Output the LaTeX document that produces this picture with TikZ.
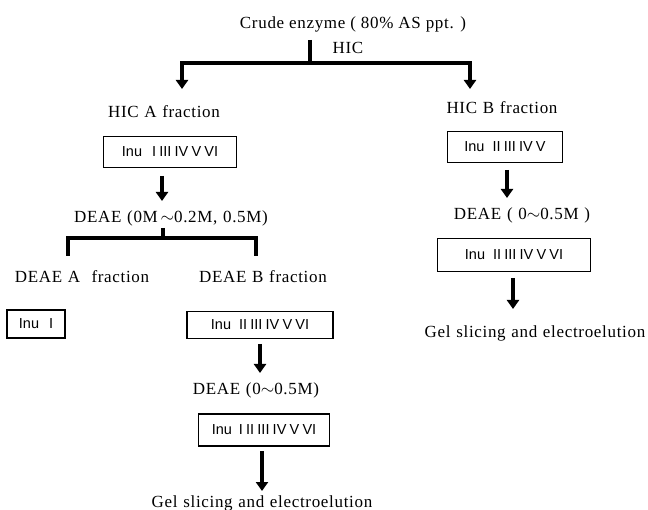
\documentclass[tikz,border=0pt]{standalone}
\usepackage{fontspec}
\setmainfont{Liberation Serif}[LetterSpace=4]
\newfontfamily\boxfont{Liberation Sans}
\usetikzlibrary{arrows.meta}
\tikzset{
  lbl/.style={inner sep=0pt, anchor=center, font=\fontsize{17}{19}\selectfont},
  inubox/.style={draw, line width=1.1pt, inner sep=0pt, align=center, font=\boxfont\fontsize{14.5}{16}\selectfont},
  arr/.style={line width=3.6pt, -{Triangle[width=12pt,length=9pt]}},
  bar/.style={line width=3.4pt, line join=miter},
}
\newcommand{\ns}{\hspace{3.2pt}}
\begin{document}
\begin{tikzpicture}[x=1pt,y=-1pt]
\useasboundingbox (0,0) rectangle (648,510);
% top
\node[lbl] (crude) at (353,24) {Crude enzyme ( 80\% AS ppt. )};
\node[lbl] (hic) at (348,48) {HIC};
\coordinate (s0) at (310,40);
\coordinate (s1) at (310,63);
\coordinate (cl) at (182,63);
\coordinate (cr) at (470,63);
\coordinate (el) at (182,89);
\coordinate (er) at (470,89);
\draw[bar] (s0) -- (s1);
\draw[bar, {Triangle[width=12pt,length=9pt]}-{Triangle[width=12pt,length=9pt]}] (el) -- (cl) -- (cr) -- (er);
% left branch
\node[lbl] (hica) at (164,112) {HIC\,\,A\,\,fraction};
\node[inubox, minimum width=133pt, minimum height=31pt] (boxa) at (170,152) {Inu\hspace{10pt}I\ns III\ns IV\ns V\ns VI};
\coordinate (a1s) at (162,176);
\coordinate (a1e) at (162,201);
\draw[arr] (a1s) -- (a1e);
\node[lbl] (deae1) at (171,218) {DEAE\,\,(0M\,$\sim$0.2M,\,\,0.5M)};
\coordinate (t0) at (163,228);
\coordinate (t1) at (163,238);
\coordinate (bl) at (68,238);
\coordinate (br) at (256,238);
\coordinate (bl2) at (68,256);
\coordinate (br2) at (256,256);
\draw[bar] (t0) -- (t1);
\draw[bar] (bl2) -- (bl) -- (br) -- (br2);
\node[lbl] (deaea) at (82,277) {DEAE\,\,A\,\,\,\,fraction};
\node[inubox, minimum width=58pt, minimum height=28pt] (boxi) at (36,324) {Inu\hspace{10pt}I};
\node[lbl] (deaeb) at (263,277) {DEAE\,\,B\,\,fraction};
\node[inubox, minimum width=146pt, minimum height=27pt] (boxb) at (260,325) {Inu\hspace{8pt}II\ns III\ns IV\ns V\ns VI};
\coordinate (a2s) at (260,344);
\coordinate (a2e) at (260,373);
\draw[arr] (a2s) -- (a2e);
\node[lbl] (deae2) at (256,390) {DEAE\,\,(0$\sim$0.5M)};
\node[inubox, minimum width=131pt, minimum height=32pt] (boxb2) at (264,430) {Inu\hspace{7pt}I\ns II\ns III\ns IV\ns V\ns VI};
\coordinate (a3s) at (262,451);
\coordinate (a3e) at (262,491);
\draw[arr] (a3s) -- (a3e);
\node[lbl] (gel1) at (262,503) {Gel\,\,slicing\,\,and\,\,electroelution};
% right branch
\node[lbl] (hicb) at (502,108) {HIC\,\,B\,\,fraction};
\node[inubox, minimum width=115pt, minimum height=31pt] (boxr1) at (505,147) {Inu\hspace{8pt}II\ns III\ns IV\ns V};
\coordinate (r1s) at (507,170);
\coordinate (r1e) at (507,198);
\draw[arr] (r1s) -- (r1e);
\node[lbl] (deaer) at (522,215) {DEAE\,\,(\,\,0$\sim$0.5M\,\,)};
\node[inubox, minimum width=153pt, minimum height=33pt] (boxr2) at (514,255) {Inu\hspace{8pt}II\ns III\ns IV\ns V\ns VI};
\coordinate (r2s) at (513,278);
\coordinate (r2e) at (513,309);
\draw[arr] (r2s) -- (r2e);
\node[lbl] (gel2) at (535,333) {Gel\,\,slicing\,\,and\,\,electroelution};
\end{tikzpicture}
\end{document}
